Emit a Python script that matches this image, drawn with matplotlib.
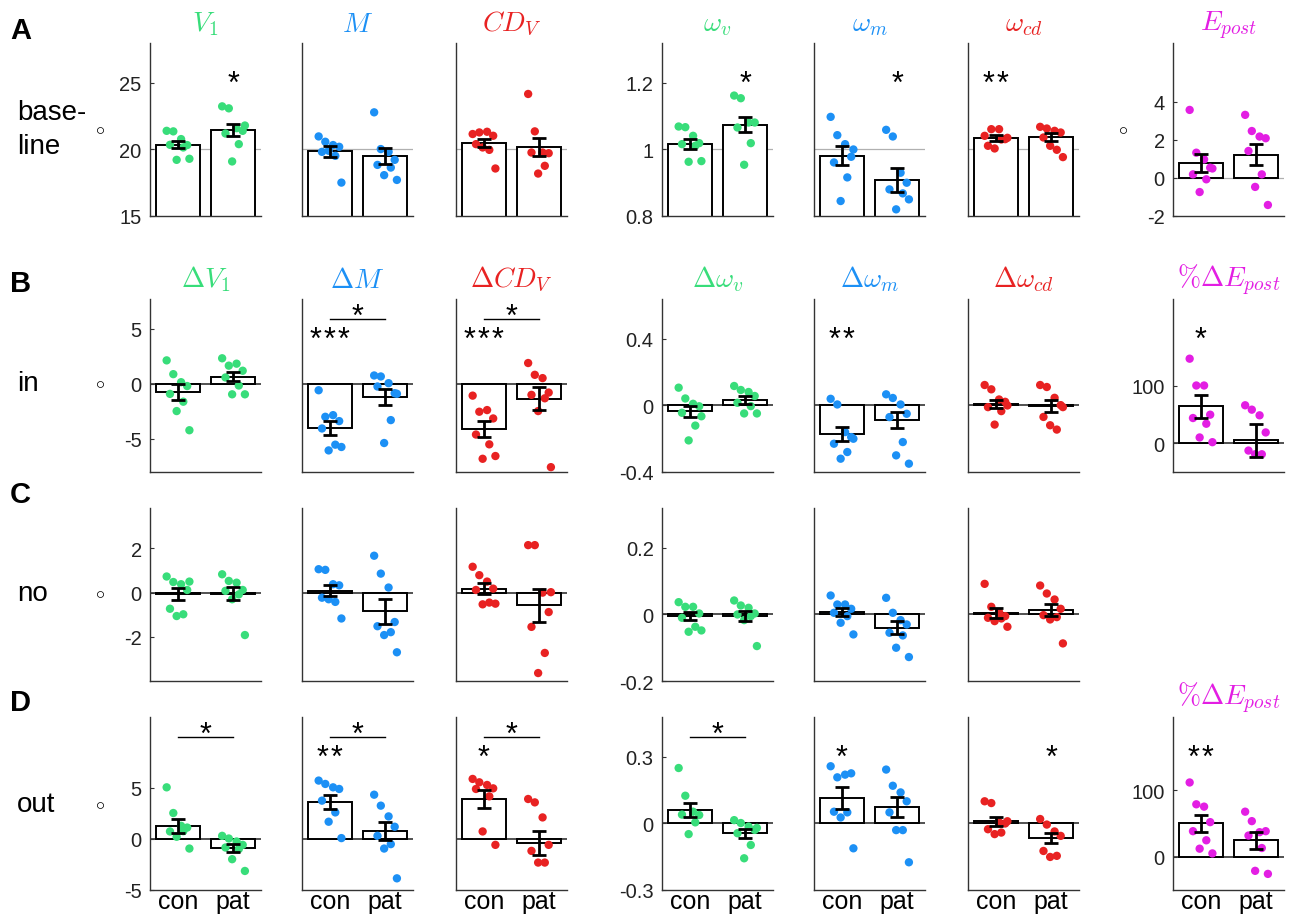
import matplotlib.pyplot as plt
from matplotlib.transforms import blended_transform_factory

plt.rcParams['font.family'] = ['Liberation Sans', 'DejaVu Sans']
plt.rcParams['mathtext.fontset'] = 'cm'
plt.rcParams['axes.unicode_minus'] = False

GREEN = '#38dd7a'
BLUE = '#1c90f5'
RED = '#e82222'
MAGENTA = '#e31ee3'
col_colors = [GREEN, BLUE, RED, GREEN, BLUE, RED, MAGENTA]

groups = ['con', 'pat']
row_names = ['base-\nline', 'in', 'no', 'out']
panel_letters = ['A', 'B', 'C', 'D']

titles_base = [r'$V_1$', r'$M$', r'$CD_V$', r'$\omega_v$', r'$\omega_m$',
               r'$\omega_{cd}$', r'$E_{post}$']
titles_delta = [r'$\Delta V_1$', r'$\Delta M$', r'$\Delta CD_V$', r'$\Delta\omega_v$',
                r'$\Delta\omega_m$', r'$\Delta\omega_{cd}$', r'$\%\Delta E_{post}$']

# baseline values
base_con = [
    [21.4, 21.36, 20.78, 20.33, 20.35, 20.15, 19.22, 19.3],
    [20.98, 20.58, 20.33, 20.2, 19.82, 19.52, 19.9, 17.51],
    [21.16, 21.28, 21.33, 21.03, 20.4, 19.97, 20.15, 18.57],
    [1.069, 1.067, 1.041, 1.019, 1.016, 1.011, 0.963, 0.965],
    [1.098, 1.043, 1.016, 0.978, 0.961, 0.916, 0.845, 1.0],
    [1.041, 1.061, 1.061, 1.031, 1.011, 1.03, 1.003, 1.035],
    [3.58, 1.33, 0.98, 0.54, 0.19, -0.07, -0.74, 0.5],
]
base_pat = [
    [23.24, 23.09, 21.6, 21.4, 21.2, 20.4, 19.1, 21.8],
    [22.79, 20.03, 19.82, 19.22, 18.84, 18.64, 18.07, 17.71],
    [24.17, 21.36, 19.77, 19.72, 19.77, 18.77, 18.19],
    [1.162, 1.154, 1.081, 1.081, 1.066, 1.019, 0.954],
    [1.059, 1.039, 0.93, 0.9, 0.88, 0.868, 0.82, 0.85],
    [1.068, 1.063, 1.056, 1.051, 1.036, 0.999, 1.011, 0.977],
    [3.32, 2.47, 2.18, 2.09, 1.42, 0.19, -0.47, -1.42],
]
base_mean = [[20.35, 21.48], [19.85, 19.5], [20.48, 20.2], [1.017, 1.074],
             [0.981, 0.909], [1.033, 1.037], [0.81, 1.23]]
base_sem = [[0.27, 0.46], [0.39, 0.59], [0.31, 0.68], [0.015, 0.023],
            [0.028, 0.036], [0.009, 0.013], [0.47, 0.57]]

# change, "in" condition
in_con = [
    [2.13, 0.88, 0.15, -0.2, -0.91, -1.62, -2.47, -4.21],
    [-0.58, -2.99, -2.84, -3.38, -4.05, -5.52, -6.04, -5.73],
    [-1.07, -2.53, -2.38, -3.14, -4.6, -5.49, -6.8, -6.55],
    [0.107, 0.042, 0.01, -0.005, -0.044, -0.121, -0.21, -0.065],
    [0.04, 0.006, -0.16, -0.19, -0.23, -0.28, -0.32, -0.2],
    [0.123, 0.097, 0.036, 0.022, -0.01, -0.034, -0.115, 0.0],
    [146.5, 100, 100, 49.4, 43.6, 33.7, 9.9, 1.7],
]
in_pat = [
    [2.32, 1.65, 1.83, 1.19, 0.58, -0.15, -0.95, -0.95],
    [0.76, 0.67, 0.06, -0.85, -0.24, -3.29, -5.37, -0.9],
    [1.89, 0.82, 0.52, -0.79, -1.0, -1.31, -2.47, -7.56],
    [0.117, 0.093, 0.081, 0.057, 0.016, -0.004, -0.048, -0.048],
    [0.067, 0.045, 0.006, -0.05, -0.07, -0.22, -0.30, -0.35],
    [0.123, 0.111, 0.046, 0.002, -0.069, -0.145, -0.119, -0.01],
    [65.7, 58.1, 48.3, 18.6, -12.8, -19.2, -19.2],
]
in_mean = [[-0.76, 0.64], [-3.99, -1.22], [-4.09, -1.34], [-0.036, 0.032],
           [-0.17, -0.087], [0.01, -0.005], [64, 5.2]]
in_sem = [[0.72, 0.42], [0.63, 0.72], [0.73, 1.05], [0.035, 0.024],
          [0.043, 0.047], [0.023, 0.035], [20, 28.5]]

# change, "no" condition
no_con = [
    [0.73, 0.48, 0.38, 0.12, -0.73, -0.98, -1.06, 0.5],
    [1.06, 1.03, 0.38, 0.33, -0.23, -0.42, -0.3, -1.17],
    [1.17, 0.79, 0.5, 0.18, 0.12, -0.45, -0.53, -0.5],
    [0.037, 0.023, 0.023, 0.003, -0.01, -0.037, -0.052, -0.048],
    [0.057, 0.03, 0.03, 0.017, 0.005, -0.005, -0.025, -0.06],
    [0.092, 0.023, 0.007, -0.005, -0.01, -0.012, -0.02, -0.037],
]
no_pat = [
    [0.83, 0.53, 0.45, 0.12, 0.08, -0.08, -0.3, -1.92],
    [1.67, 0.86, 0.23, -1.33, -1.52, -1.79, -1.92, -2.7],
    [2.15, 2.15, 0.0, -0.88, -1.55, -2.73, -3.64, 0.02],
    [0.042, 0.027, 0.02, 0.003, 0.0, -0.005, -0.017, -0.095],
    [0.05, 0.005, -0.017, -0.03, -0.055, -0.063, -0.1, -0.128],
    [0.087, 0.063, 0.045, 0.017, -0.002, -0.008, -0.015, -0.087],
]
no_mean = [[-0.07, -0.04], [0.08, -0.85], [0.17, -0.58], [-0.005, -0.005],
           [0.007, -0.04], [0.003, 0.013]]
no_sem = [[0.27, 0.3], [0.25, 0.55], [0.25, 0.76], [0.0125, 0.014],
          [0.013, 0.02], [0.015, 0.018]]

# change, "out" condition
out_con = [
    [5.03, 2.52, 1.27, 1.1, 0.72, 0.75, 0.2, -0.95],
    [5.69, 5.36, 5.03, 4.87, 3.73, 2.58, 1.67, 0.07],
    [5.85, 5.52, 5.26, 4.93, 4.87, 4.15, 0.72, -0.59],
    [0.25, 0.125, 0.053, 0.038, 0.04, 0.005, -0.048],
    [0.258, 0.208, 0.22, 0.226, 0.053, 0.05, 0.027, -0.112],
    [0.1, 0.092, 0.005, 0.0, -0.026, -0.041, -0.048, 0.01],
    [111.6, 78.8, 75.3, 52, 38.4, 24.7, 12.1, 5],
]
out_pat = [
    [0.29, 0.03, -0.26, -0.59, -0.85, -1.0, -1.99, -3.14],
    [4.31, 3.24, 2.19, 1.18, 0.29, -0.52, -0.95, -3.86],
    [3.89, 3.56, 2.09, -0.59, -1.18, -2.32, -2.32],
    [0.015, 0.002, -0.014, -0.029, -0.044, -0.097, -0.157, -0.02],
    [0.243, 0.17, 0.14, 0.1, 0.05, -0.03, -0.03, -0.175],
    [0.02, -0.005, -0.036, -0.056, -0.124, -0.146, -0.151],
    [67.7, 53.5, 36.9, 38.4, 31.8, 13.1, -21.2, -25.8],
]
out_mean = [[1.24, -0.92], [3.59, 0.78], [3.89, -0.39], [0.06, -0.045],
            [0.115, 0.075], [0.009, -0.066], [50, 24.7]]
out_sem = [[0.65, 0.38], [0.69, 0.9], [0.87, 1.2], [0.032, 0.02],
           [0.048, 0.045], [0.019, 0.024], [13, 12.4]]

# significance marks: (column, bar, label) and columns with a con-vs-pat bracket
base_stars = [(0, 2, '*'), (3, 2, '*'), (4, 2, '*'), (5, 1, '**')]
in_stars = [(1, 1, '***'), (2, 1, '***'), (4, 1, '**'), (6, 1, '*')]
no_stars = []
out_stars = [(1, 1, '**'), (2, 1, '*'), (4, 1, '*'), (5, 2, '*'), (6, 1, '**')]
base_brackets = []
in_brackets = [1, 2]
no_brackets = []
out_brackets = [0, 1, 2, 3]

# y ranges and ticks per row: (cols 1-3, cols 4-6, col 7)
ylims = [
    [(15, 28), (0.8, 1.32), (-2, 7.1)],
    [(-8, 7.7), (-0.4, 0.64), (-50, 250)],
    [(-4, 3.83), (-0.2, 0.32), None],
    [(-5, 11.9), (-0.3, 0.48), (-50, 210)],
]
yticks = [
    [[15, 20, 25], [0.8, 1, 1.2], [-2, 0, 2, 4]],
    [[-5, 0, 5], [-0.4, 0, 0.4], [0, 100]],
    [[-2, 0, 2], [-0.2, 0, 0.2], None],
    [[-5, 0, 5], [-0.3, 0, 0.3], [0, 100]],
]
ref_lines = [[20, 1, 0], [0, 0, 0], [0, 0, 0], [0, 0, 0]]

jitter = [-0.2, -0.08, 0.06, 0.17, -0.14, 0.1, -0.02, 0.21]

rows = [
    (base_con, base_pat, base_mean, base_sem, base_stars, base_brackets, titles_base),
    (in_con, in_pat, in_mean, in_sem, in_stars, in_brackets, titles_delta),
    (no_con, no_pat, no_mean, no_sem, no_stars, no_brackets, None),
    (out_con, out_pat, out_mean, out_sem, out_stars, out_brackets, None),
]

W, H = 1298, 920
fig = plt.figure(figsize=(W / 100, H / 100), dpi=100)
col_left = [150, 302, 456, 662, 814, 968, 1173]
row_top = [44, 300, 509, 718]
row_label_y = [130, 384, 594, 805]
letter_y = [31, 284, 495, 703]
ax_w, ax_h = 111, 173


def stars_text(ax, tr, x, y, label):
    # one asterisk per glyph, spread around x and centred visually on y
    n = len(label)
    step = 10.0
    for i in range(n):
        dx = (i - (n - 1) / 2) * step
        ax.annotate('*', (x, y), xycoords=tr, xytext=(dx, -12.5),
                    textcoords='offset points', ha='center', va='baseline',
                    fontsize=22)


for r, (con, pat, mean, sem, stars, brackets, titles) in enumerate(rows):
    fig.text(10 / W, 1 - letter_y[r] / H, panel_letters[r], fontsize=21,
             fontweight='bold', va='center')
    fig.text(17 / W, 1 - row_label_y[r] / H, row_names[r], fontsize=20,
             va='center', ha='left', linespacing=1.4)
    fig.text(100 / W, 1 - row_label_y[r] / H, r'$\circ$', fontsize=13,
             ha='center', va='center')
    for c in range(len(con)):
        g = 0 if c < 3 else (1 if c < 6 else 2)
        ax = fig.add_axes([col_left[c] / W, 1 - (row_top[r] + ax_h) / H,
                           ax_w / W, ax_h / H])
        if r == 0:
            ax.axhline(ref_lines[r][g], color='#b0b0b0', lw=0.9, zorder=1)
        else:
            ax.axhline(ref_lines[r][g], color='#222222', lw=1.1, zorder=1)
        ax.bar([1, 2], mean[c], width=0.8, color='white', edgecolor='black',
               linewidth=1.4, zorder=2)
        for k, vals in enumerate([con[c], pat[c]]):
            xs = [k + 1 + jitter[i % len(jitter)] for i in range(len(vals))]
            ax.scatter(xs, vals, s=36, color=col_colors[c], edgecolor='none',
                       zorder=3)
        ax.errorbar([1, 2], mean[c], yerr=sem[c], fmt='none', ecolor='black',
                    elinewidth=2, capsize=5, capthick=2, zorder=4)

        ax.set_xlim(0.5, 2.5)
        ax.set_ylim(*ylims[r][g])
        for side in ['top', 'right']:
            ax.spines[side].set_visible(False)
        for side in ['left', 'bottom']:
            ax.spines[side].set_color('#333333')
            ax.spines[side].set_linewidth(1.0)
        ax.tick_params(axis='y', direction='in', length=3, colors='#333333',
                       labelsize=14.5, labelcolor='#222222', pad=6)
        if c in (0, 3, 6):
            ax.set_yticks(yticks[r][g])
            ax.set_yticklabels(['%g' % v for v in yticks[r][g]])
        else:
            ax.set_yticks([])
        if r == 3:
            ax.set_xticks([1, 2])
            ax.set_xticklabels(groups, fontsize=18)
            ax.tick_params(axis='x', length=0, pad=-1)
        else:
            ax.set_xticks([])

        if titles is not None:
            ax.set_title(titles[c], color=col_colors[c], fontsize=20, pad=9)
        elif c == 6:
            ax.set_title(titles_delta[c], color=col_colors[c], fontsize=20, pad=9)

        tr = blended_transform_factory(ax.transData, ax.transAxes)
        for sc, bar, label in stars:
            if sc == c:
                stars_text(ax, tr, bar, 0.815, label)
        if c in brackets:
            ax.plot([1, 2], [0.883, 0.883], color='black', lw=1, transform=tr,
                    clip_on=False)
            stars_text(ax, tr, 1.5, 0.95, '*')

fig.text(1123 / W, 1 - row_label_y[0] / H, r'$\circ$', fontsize=13,
         ha='center', va='center')

fig.savefig('out.png', dpi=100)
